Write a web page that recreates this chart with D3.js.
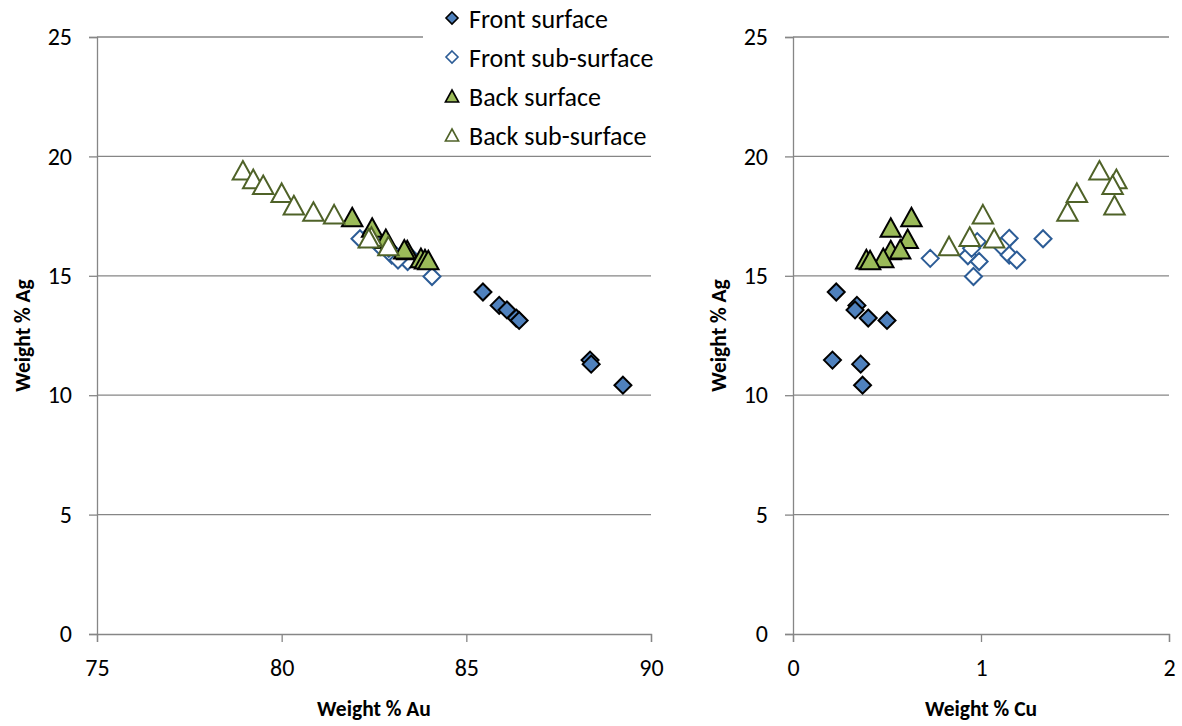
<!DOCTYPE html>
<html>
<head>
<meta charset="utf-8">
<script src="https://cdn.jsdelivr.net/npm/d3@7"></script>
<style>
  body { margin: 0; background: #fff; }
  text { font-family: Carlito, Lato, "Noto Sans", sans-serif; }
</style>
</head>
<body>
<div id="chart"></div>
<script>
// ************data************************************
const seriesNames = ["Front surface", "Front sub-surface", "Back surface", "Back sub-surface"]

// front surface (filled blue diamonds)
const frontSurfAu = [85.45, 85.89, 86.10, 86.35, 86.43, 88.35, 88.38, 89.24]
const frontSurfCu = [0.23, 0.34, 0.33, 0.40, 0.50, 0.21, 0.36, 0.37]
const frontSurfAg = [14.32, 13.76, 13.57, 13.23, 13.13, 11.47, 11.30, 10.42]

// front sub-surface (open blue diamonds)
const frontSubAu = [83.54, 83.23, 82.59, 83.41, 84.07, 82.28, 82.67, 82.98, 83.15, 82.90, 82.12]
const frontSubCu = [0.73, 0.93, 0.98, 0.99, 0.96, 1.15, 1.11, 1.15, 1.19, 0.95, 1.33]
const frontSubAg = [15.73, 15.84, 16.43, 15.60, 14.97, 16.57, 16.22, 15.87, 15.66, 16.15, 16.55]

// back surface (filled green triangles)
const backSurfAu = [81.91, 82.45, 82.82, 83.40, 83.32, 83.77, 83.88, 83.97]
const backSurfCu = [0.63, 0.52, 0.61, 0.52, 0.57, 0.48, 0.39, 0.41]
const backSurfAg = [17.46, 17.02, 16.55, 16.08, 16.11, 15.75, 15.70, 15.66]

// back sub-surface (open green triangles)
const backSubAu = [78.95, 79.23, 79.50, 80.00, 80.33, 80.86, 81.42, 82.43, 82.89, 82.36]
const backSubCu = [1.63, 1.72, 1.70, 1.51, 1.71, 1.46, 1.01, 0.94, 0.83, 1.07]
const backSubAg = [19.42, 19.06, 18.81, 18.48, 17.96, 17.69, 17.58, 16.64, 16.25, 16.57]

const auTicks = [75, 80, 85, 90]
const cuTicks = [0, 1, 2]
const agTicks = [0, 5, 10, 15, 20, 25]

// ************layout***************
const W = 1182
const H = 726
const plotTop = 37
const plotBottom = 634

const axisGrey = "#868686"
const blue = "#4F81BD"
const blueLine = "#2C5C96"
const green = "#9BBB59"
const greenLine = "#4F6228"

const styles = [
  { shape: "diamond", fill: blue, stroke: "#000" },
  { shape: "diamond", fill: "#fff", stroke: blueLine },
  { shape: "triangle", fill: green, stroke: "#000" },
  { shape: "triangle", fill: "#fff", stroke: greenLine }
]

const zip = (xs, ys) => xs.map((v, i) => [v, ys[i]])

const leftData = [
  zip(frontSurfAu, frontSurfAg),
  zip(frontSubAu, frontSubAg),
  zip(backSurfAu, backSurfAg),
  zip(backSubAu, backSubAg)
]
const rightData = [
  zip(frontSurfCu, frontSurfAg),
  zip(frontSubCu, frontSubAg),
  zip(backSurfCu, backSurfAg),
  zip(backSubCu, backSubAg)
]

const svg = d3.select("#chart")
  .append("svg")
  .attr("width", W)
  .attr("height", H)

// marker path, centred on its bounding box
function marker(shape, s) {
  if (shape == "diamond") {
    return "M0," + (-s) + "L" + s + ",0L0," + s + "L" + (-s) + ",0Z"
  }
  const w = s * 1.1
  const h = s
  return "M0," + (-h) + "L" + w + "," + h + "L" + (-w) + "," + h + "Z"
}

const y = d3.scaleLinear().domain([0, 25]).range([plotBottom, plotTop])

function panel(x0, x1, xDomain, xTicks, data, xTitle) {
  const x = d3.scaleLinear().domain(xDomain).range([x0, x1])
  const g = svg.append("g")

  // gridlines
  g.selectAll(".grid")
    .data(agTicks.filter(d => d > 0))
    .enter()
    .append("line")
    .attr("x1", x0)
    .attr("x2", x1)
    .attr("y1", d => y(d))
    .attr("y2", d => y(d))
    .attr("stroke", axisGrey)
    .attr("stroke-width", 1.3)

  // Y-axis
  const yAxis = g.append("g")
    .attr("transform", "translate(" + x0 + ",0)")
    .call(d3.axisLeft(y).tickValues(agTicks).tickSize(8).tickPadding(17))
  // X-axis
  const xAxis = g.append("g")
    .attr("transform", "translate(0," + plotBottom + ")")
    .call(d3.axisBottom(x).tickValues(xTicks).tickSize(8).tickPadding(17).tickFormat(d3.format("d")))

  ;[xAxis, yAxis].forEach(a => {
    a.select(".domain").attr("stroke", axisGrey).attr("stroke-width", 1.3)
    a.selectAll(".tick line").attr("stroke", axisGrey).attr("stroke-width", 1.3)
    a.selectAll(".tick text")
      .attr("fill", "#000")
      .style("font-size", "24px")
      .style("font-family", "Carlito, Lato, sans-serif")
  })

  // axis titles
  g.append("text")
    .attr("x", (x0 + x1) / 2)
    .attr("y", 716)
    .attr("text-anchor", "middle")
    .style("font-size", "21.5px")
    .style("font-weight", "bold")
    .text(xTitle)

  g.append("text")
    .attr("transform", "translate(" + (x0 - 67) + "," + ((plotTop + plotBottom) / 2) + ") rotate(-90)")
    .attr("text-anchor", "middle")
    .style("font-size", "21.5px")
    .style("font-weight", "bold")
    .text("Weight % Ag")

  // points, series in order so later ones sit on top
  data.forEach((pts, i) => {
    const st = styles[i]
    g.selectAll(".s" + i)
      .data(pts)
      .enter()
      .append("path")
      .attr("class", "s" + i)
      .attr("d", marker(st.shape, st.shape == "diamond" ? 8.5 : 9.3))
      .attr("transform", d => "translate(" + x(d[0]) + "," + y(d[1]) + ")")
      .attr("fill", st.fill)
      .attr("stroke", st.stroke)
      .attr("stroke-width", 2)
      .attr("stroke-linejoin", "miter")
  })
  return g
}

panel(97, 651, [75, 90], auTicks, leftData, "Weight % Au")
panel(793, 1169, [0, 2], cuTicks, rightData, "Weight % Cu")

// graph legend
const legendG = svg.append("g")
legendG.append("rect")
  .attr("x", 423)
  .attr("y", 0)
  .attr("width", 240)
  .attr("height", 152)
  .attr("fill", "#fff")

const legend = legendG.selectAll(".legend")
  .data(seriesNames)
  .enter()
  .append("g")
  .attr("class", "legend")
  .attr("transform", (d, i) => "translate(452," + (18 + i * 39) + ")")

legend.append("path")
  .attr("d", (d, i) => marker(styles[i].shape, 6))
  .attr("fill", (d, i) => styles[i].fill)
  .attr("stroke", (d, i) => styles[i].stroke)
  .attr("stroke-width", 1.6)

legend.append("text")
  .attr("x", 17)
  .attr("y", 1)
  .attr("dy", "0.35em")
  .style("font-size", "26px")
  .text(d => d)
</script>
</body>
</html>
